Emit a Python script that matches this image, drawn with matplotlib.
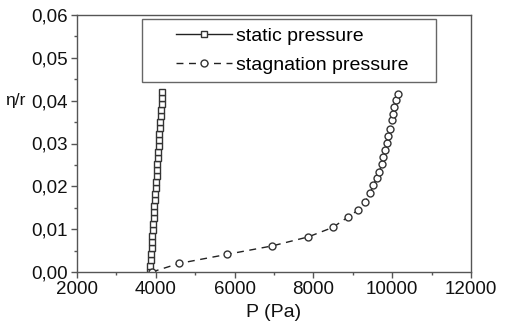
import numpy as np
import matplotlib
matplotlib.use("Agg")
import matplotlib.pyplot as plt
from matplotlib.patches import Rectangle
from matplotlib.ticker import FuncFormatter, MultipleLocator

plt.rcParams['font.family'] = ['Liberation Sans', 'DejaVu Sans']

# static pressure (squares)
static_eta = [0.0000, 0.0014, 0.0028, 0.0042, 0.0056, 0.0070, 0.0084, 0.0098,
              0.0112, 0.0126, 0.0140, 0.0154, 0.0168, 0.0182, 0.0196, 0.0210,
              0.0224, 0.0238, 0.0252, 0.0266, 0.0280, 0.0294, 0.0308, 0.0322,
              0.0336, 0.0350, 0.0364, 0.0378, 0.0392, 0.0406, 0.0420]
static_p = [3850, 3862, 3872, 3882, 3893, 3903, 3914, 3924, 3935, 3945,
            3956, 3966, 3977, 3987, 3998, 4008, 4019, 4029, 4040, 4050,
            4061, 4071, 4082, 4092, 4103, 4113, 4124, 4134, 4145, 4155, 4166]

# stagnation pressure (circles)
stag_p = [3900, 4590, 5800, 6960, 7870, 8490, 8890, 9140, 9310, 9440, 9520,
          9605, 9673, 9733, 9774, 9817, 9860, 9900, 9944, 9987, 10012,
          10046, 10089, 10140]
stag_eta = [0.0000, 0.0020, 0.0041, 0.0061, 0.0082, 0.0104, 0.0129, 0.0145,
            0.0164, 0.0184, 0.0203, 0.0219, 0.0234, 0.0252, 0.0269, 0.0285,
            0.0302, 0.0318, 0.0335, 0.0355, 0.0370, 0.0386, 0.0402, 0.0416]

W, H = 505, 321
fig = plt.figure(figsize=(W / 100, H / 100), dpi=100)
ax = fig.add_axes([77 / W, 1 - 272 / H, 394 / W, 257 / H])

ax.plot(static_p, static_eta, '-', color='#222222', lw=1.0, marker='s',
        ms=4.5, mfc='white', mec='#333333', mew=1.0, label='static pressure')
ax.plot(stag_p, stag_eta, color='#222222', lw=1.0, ls=(0, (5, 4)), marker='o',
        ms=5, mfc='white', mec='#333333', mew=1.0, label='stagnation pressure')

ax.set_xlim(2000, 12000)
ax.set_ylim(0, 0.06)
ax.xaxis.set_major_locator(MultipleLocator(2000))
ax.xaxis.set_minor_locator(MultipleLocator(1000))
ax.yaxis.set_major_locator(MultipleLocator(0.01))
ax.yaxis.set_minor_locator(MultipleLocator(0.005))
ax.yaxis.set_major_formatter(FuncFormatter(lambda v, pos: f"{v:.2f}".replace('.', ',')))

for s in ax.spines.values():
    s.set_color('#555555')
    s.set_linewidth(1.0)
ax.tick_params(which='major', direction='out', length=4, width=1, color='#555555',
               labelsize=13.5, pad=2.5, labelcolor='#111111')
ax.tick_params(which='minor', direction='out', length=2.5, width=1, color='#555555')

ax.set_xlabel('P (Pa)', fontsize=14, labelpad=4, color='#111111')
fig.text(5 / W, 1 - 101 / H, 'η/r', fontsize=12.5, va='center', ha='left', color='#111111')

# legend frame drawn by hand (Origin-style box)
fig.patches.append(Rectangle((142 / W, 1 - 82 / H), 294 / W, 63 / H,
                             transform=fig.transFigure, fill=True, facecolor='white',
                             edgecolor='#666666', lw=1.0, zorder=5))
leg = fig.legend(loc='upper left', bbox_to_anchor=(176 / W, 1 - 27 / H), fontsize=14,
                 frameon=False, borderpad=0, handlelength=2.9, handletextpad=0.2,
                 labelspacing=0.6, borderaxespad=0)
leg.set_zorder(6)

fig.savefig('out.png', dpi=100)
